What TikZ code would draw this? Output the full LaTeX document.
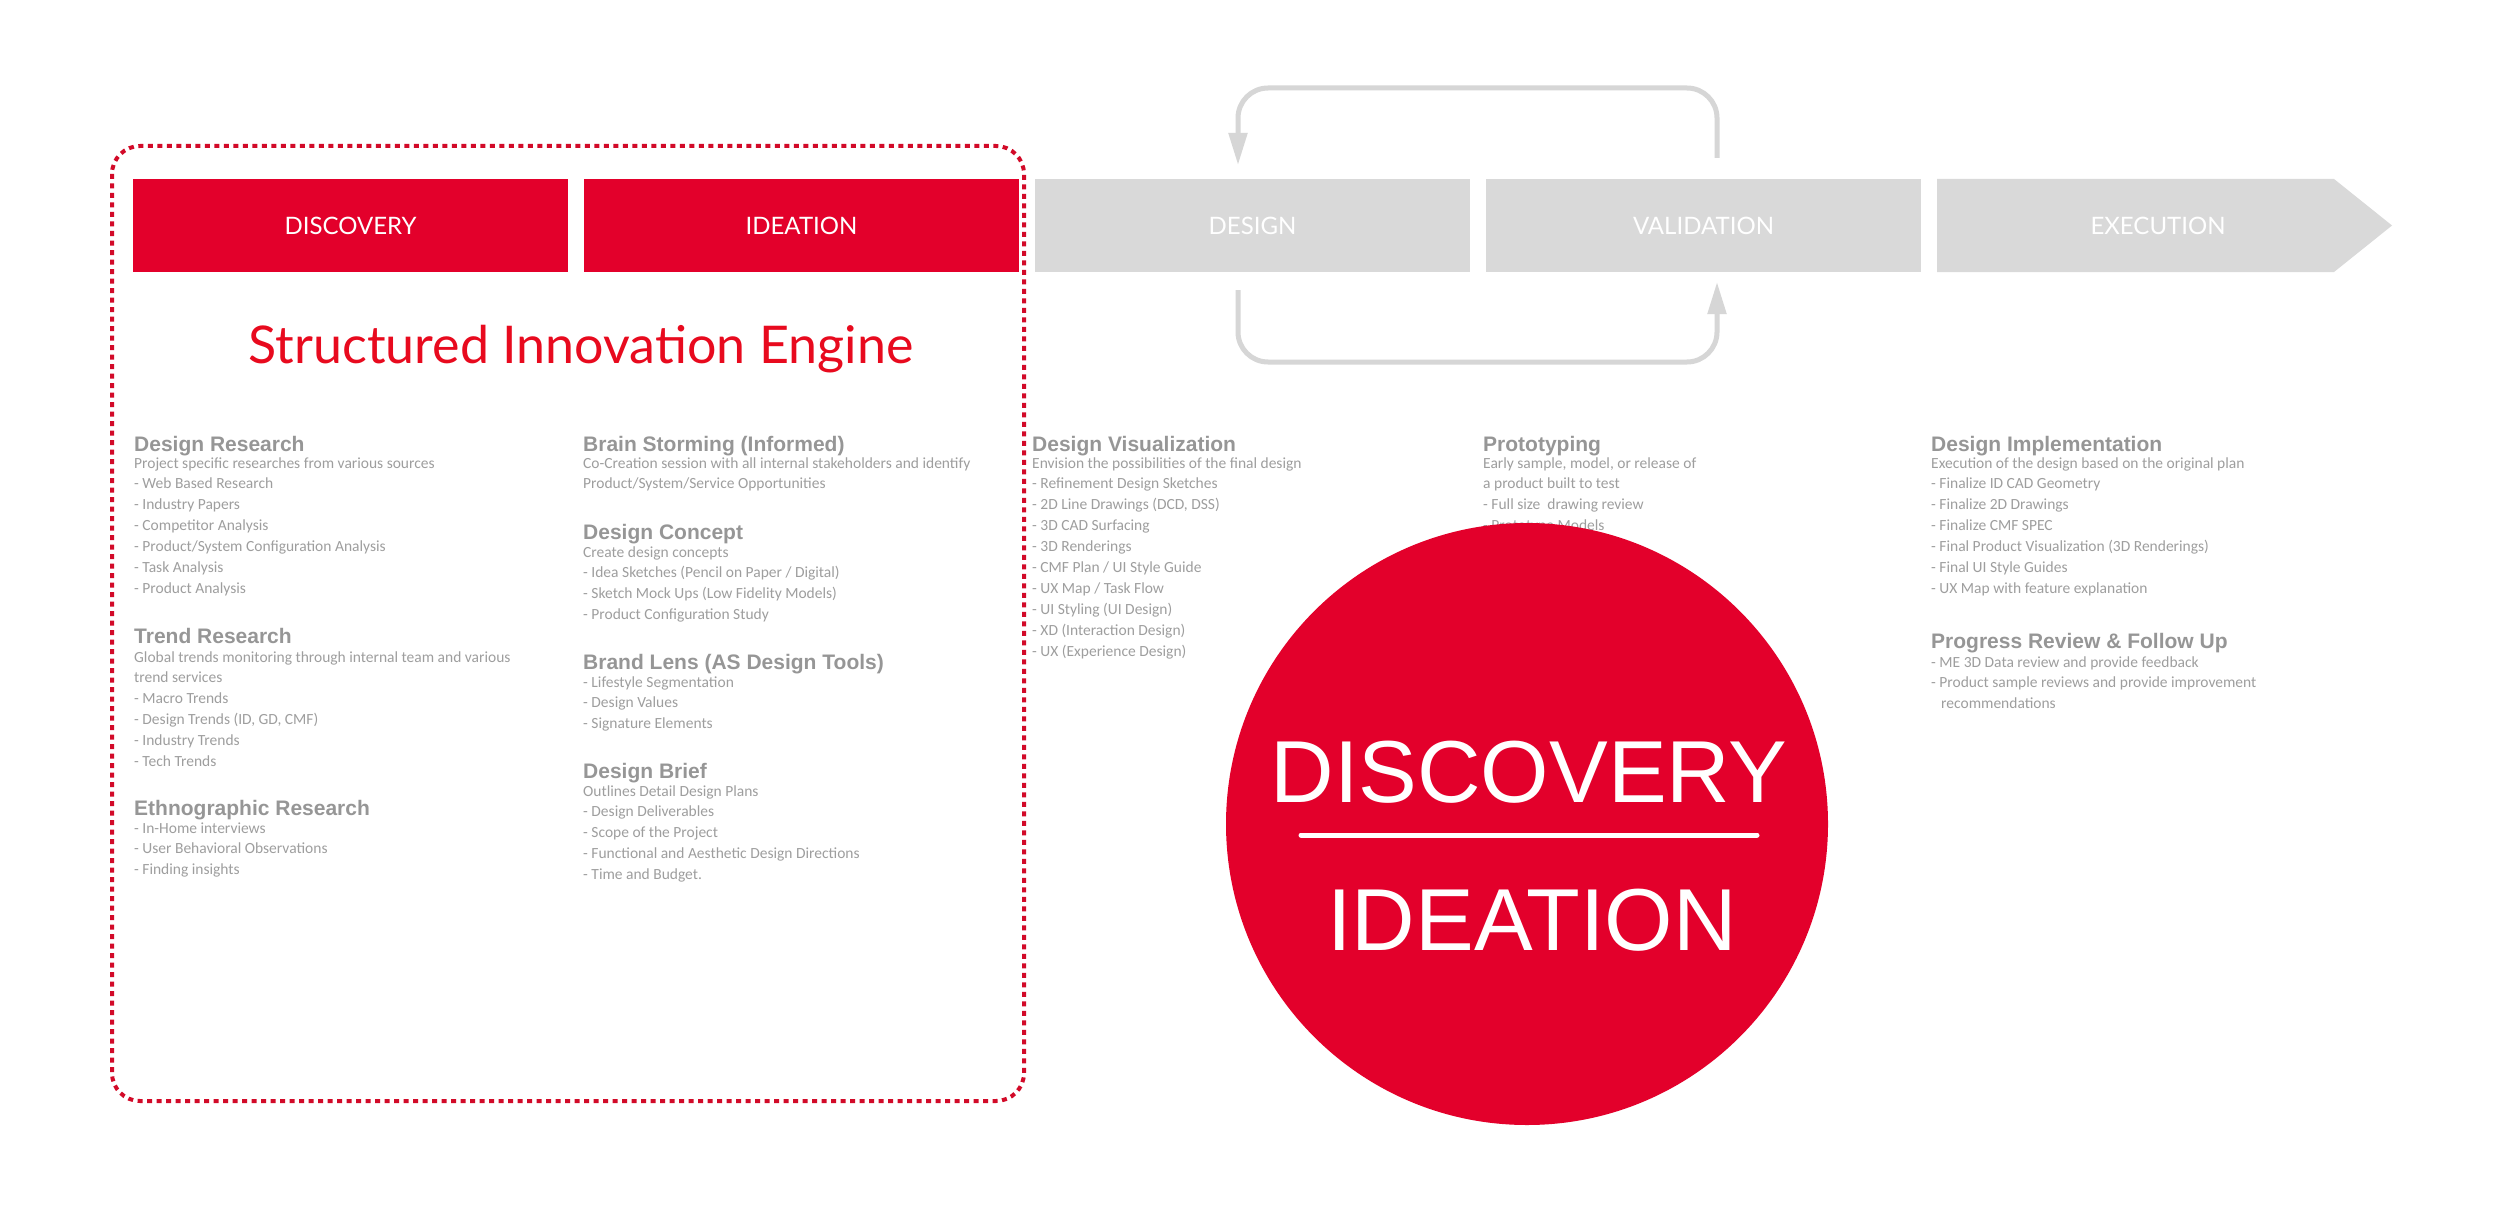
\documentclass[tikz,border=0pt]{standalone}
\usepackage{fontspec}
\usetikzlibrary{arrows.meta}
\newfontfamily\latof{Lato}
\newfontfamily\bodyf{Carlito}
\newfontfamily\headf{Liberation Sans}
\newfontfamily\arialf{Liberation Sans}
\definecolor{brandred}{RGB}{227,0,43}
\definecolor{titlered}{RGB}{232,10,30}
\definecolor{dashred}{RGB}{210,10,40}
\definecolor{boxgrey}{RGB}{217,217,217}
\definecolor{loopgrey}{RGB}{214,214,214}
\definecolor{headgrey}{RGB}{150,150,150}
\definecolor{bodygrey}{RGB}{158,158,158}
\newcommand\myl[1]{\hbox{#1}}
\newcommand\mylines[1]{\vtop{\baselineskip=20.9pt\lineskiplimit=-100pt\lineskip=0pt #1}}
\begin{document}
\begin{tikzpicture}[x=1pt,y=-1pt,
 phase/.style={minimum width=435pt,minimum height=93pt,inner sep=0pt,text=white,font=\latof\fontsize{24pt}{28pt}\selectfont},
 redphase/.style={phase,fill=brandred},
 greyphase/.style={phase,fill=boxgrey},
 phasetext/.style={inner sep=0pt,text=white,font=\latof\fontsize{24pt}{28pt}\selectfont},
 heading/.style={anchor=base west,inner sep=0pt,text=headgrey,font=\headf\bfseries\fontsize{21pt}{24pt}\selectfont},
 body/.style={anchor=base west,inner sep=0pt,text=bodygrey,font=\bodyf\fontsize{15.5pt}{20.9pt}\selectfont},
 loopline/.style={draw=loopgrey,line width=5pt,rounded corners=30pt,-{Triangle[length=32pt,width=18pt]}},
 circtext/.style={anchor=base,inner sep=0pt,text=white,font=\arialf\fontsize{88pt}{100pt}\selectfont},
]
\useasboundingbox (0,0) rectangle (2500,1225);
\fill[white] (0,0) rectangle (2500,1225);

% dotted frame
\draw[dashred,line width=4pt,dash pattern=on 5pt off 4.5pt,rounded corners=28pt] (112,146) rectangle (1024,1101);

% phase bar
\node[redphase] (disc) at (350.5,225.5) {DISCOVERY};
\node[redphase] (idea) at (801.5,225.5) {IDEATION};
\node[greyphase] (design) at (1252.5,225.5) {DESIGN};
\node[greyphase] (valid) at (1703.5,225.5) {VALIDATION};
\fill[boxgrey] (1937,179) -- (2334,179) -- (2392,225.5) -- (2334,272) -- (1937,272) -- cycle;
\node[phasetext] (exec) at (2158,225.5) {EXECUTION};

% iteration loops
\coordinate (vtop) at (1717,158);
\coordinate (dtop) at (1238,165);
\coordinate (dbot) at (1238,290);
\coordinate (vbot) at (1717,282);
\draw[loopline] (vtop) -- (1717,88) -| (dtop);
\draw[loopline] (dbot) -- (1238,362) -| (vbot);

% title
\node[anchor=base,inner sep=0pt,text=titlered,font=\latof\fontsize{52pt}{60pt}\selectfont] (title) at (581,363) {Structured Innovation Engine};

% column 1
\node[heading] (h11) at (134,451) {Design Research};
\node[body] (b11) at (134,468) {\mylines{\myl{Project specific researches from various sources}\myl{- Web Based Research}\myl{- Industry Papers}\myl{- Competitor Analysis}\myl{- Product/System Configuration Analysis}\myl{- Task Analysis}\myl{- Product Analysis}}};
\node[heading] (h12) at (134,643) {Trend Research};
\node[body] (b12) at (134,662) {\mylines{\myl{Global trends monitoring through internal team and various}\myl{trend services}\myl{- Macro Trends}\myl{- Design Trends (ID, GD, CMF)}\myl{- Industry Trends}\myl{- Tech Trends}}};
\node[heading] (h13) at (134,815) {Ethnographic Research};
\node[body] (b13) at (134,833) {\mylines{\myl{- In-Home interviews}\myl{- User Behavioral Observations}\myl{- Finding insights}}};

% column 2
\node[heading] (h21) at (583,451) {Brain Storming (Informed)};
\node[body] (b21) at (583,468) {\mylines{\myl{Co-Creation session with all internal stakeholders and identify}\myl{Product/System/Service Opportunities}}};
\node[heading] (h22) at (583,539) {Design Concept};
\node[body] (b22) at (583,557) {\mylines{\myl{Create design concepts}\myl{- Idea Sketches (Pencil on Paper / Digital)}\myl{- Sketch Mock Ups (Low Fidelity Models)}\myl{- Product Configuration Study}}};
\node[heading] (h23) at (583,669) {Brand Lens (AS Design Tools)};
\node[body] (b23) at (583,687) {\mylines{\myl{- Lifestyle Segmentation}\myl{- Design Values}\myl{- Signature Elements}}};
\node[heading] (h24) at (583,778) {Design Brief};
\node[body] (b24) at (583,796) {\mylines{\myl{Outlines Detail Design Plans}\myl{- Design Deliverables}\myl{- Scope of the Project}\myl{- Functional and Aesthetic Design Directions}\myl{- Time and Budget.}}};

% column 3
\node[heading] (h31) at (1032,451) {Design Visualization};
\node[body] (b31) at (1032,468) {\mylines{\myl{Envision the possibilities of the final design}\myl{- Refinement Design Sketches}\myl{- 2D Line Drawings (DCD, DSS)}\myl{- 3D CAD Surfacing}\myl{- 3D Renderings}\myl{- CMF Plan / UI Style Guide}\myl{- UX Map / Task Flow}\myl{- UI Styling (UI Design)}\myl{- XD (Interaction Design)}\myl{- UX (Experience Design)}}};

% column 4
\node[heading] (h41) at (1483,451) {Prototyping};
\node[body] (b41) at (1483,468) {\mylines{\myl{Early sample, model, or release of}\myl{a product built to test}\myl{- Full size\ \ drawing review}\myl{- Prototype Models}}};

% column 5
\node[heading] (h51) at (1931,451) {Design Implementation};
\node[body] (b51) at (1931,468) {\mylines{\myl{Execution of the design based on the original plan}\myl{- Finalize ID CAD Geometry}\myl{- Finalize 2D Drawings}\myl{- Finalize CMF SPEC}\myl{- Final Product Visualization (3D Renderings)}\myl{- Final UI Style Guides}\myl{- UX Map with feature explanation}}};
\node[heading] (h52) at (1931,648) {Progress Review \& Follow Up};
\node[body] (b52) at (1931,667) {\mylines{\myl{- ME 3D Data review and provide feedback}\myl{- Product sample reviews and provide improvement}\myl{\hspace{10pt}recommendations}}};

% badge
\node[circle,fill=brandred,minimum size=602pt,inner sep=0pt] (disk) at (1527,824) {};
\node[circtext] (cdisc) at (1529,802.5) {DISCOVERY};
\node[circtext] (cidea) at (1532,950) {IDEATION};
\coordinate (ruleL) at (1301,835);
\coordinate (ruleR) at (1757,835);
\draw[white,line width=5pt,line cap=round] (ruleL) -- (ruleR);
\end{tikzpicture}
\end{document}
